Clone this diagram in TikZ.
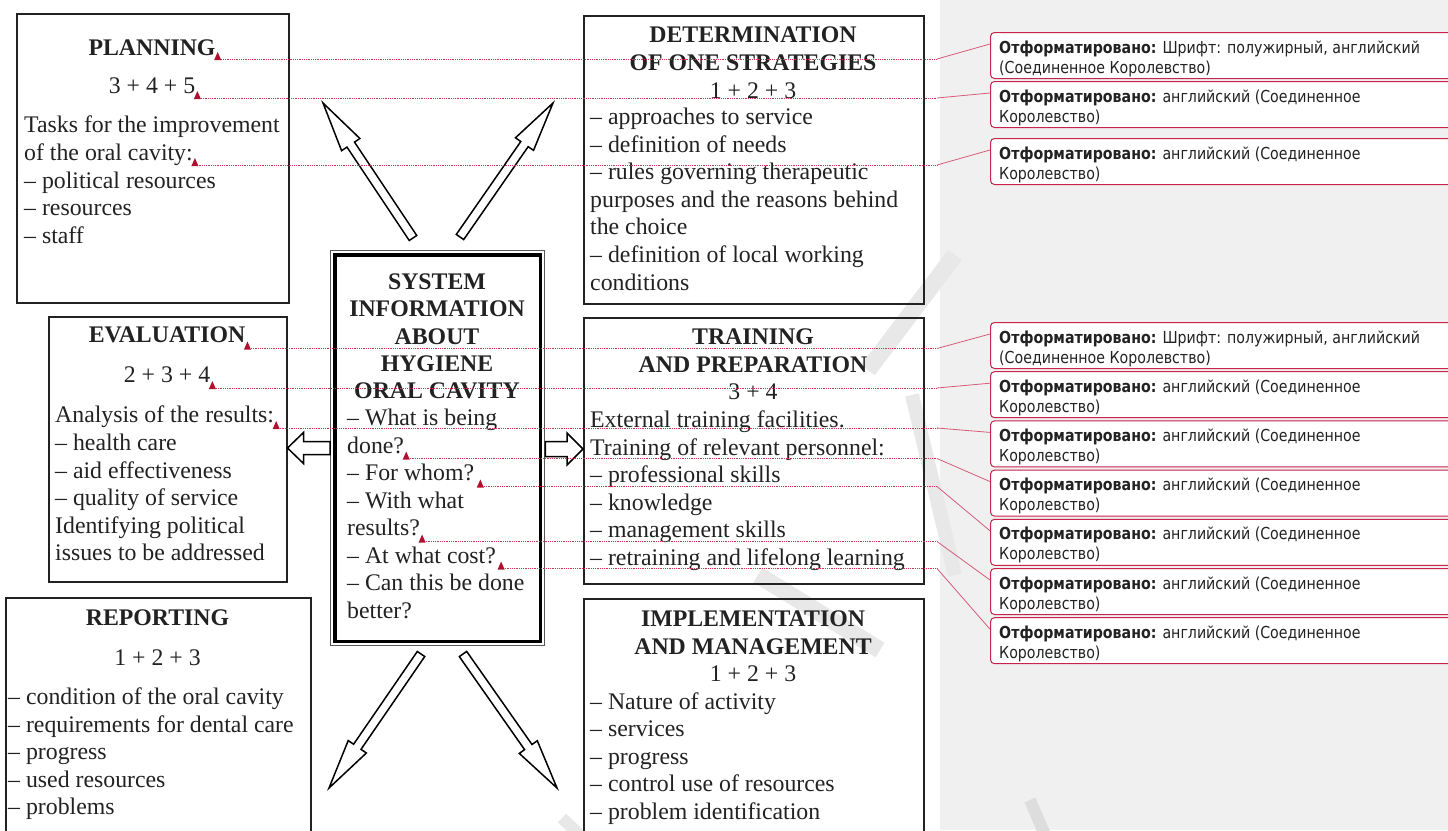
\documentclass[tikz,border=0pt]{standalone}
\usepackage{fontspec}
\setmainfont{Liberation Serif}
\newfontfamily\notefont[FakeStretch=0.86]{DejaVu Sans}
\usetikzlibrary{calc}
\definecolor{ink}{HTML}{222222}
\definecolor{revred}{HTML}{CC3358}
\definecolor{boxred}{HTML}{C8234B}
\definecolor{mkred}{HTML}{B0102E}
\definecolor{panel}{HTML}{F0F0F0}
\definecolor{wmark}{HTML}{E8E8E8}
\newcommand\mainsz{\fontsize{23.8}{27.6}\selectfont}
\newcommand\notesz{\fontsize{16.5}{20}\selectfont}
\newcommand\BlockArrow[6]{%
  \coordinate (#6) at ($(#2)!#5!(#1)$);
  \draw[barrow] ($(#1)!#3!90:(#2)$) -- ($(#6)!#3!90:(#2)$) -- ($(#6)!#4!90:(#2)$) -- (#2) -- ($(#6)!#4!-90:(#2)$) -- ($(#6)!#3!-90:(#2)$) -- ($(#1)!#3!-90:(#2)$) -- cycle;}
\newcommand\MkNote[4]{%
  \node[cbox] (#1) at (990,#2) {};
  \node[ctxt] (#1a) at (999,#2+21) {\textbf{Отформатировано:} #3};
  \node[ctxt] (#1b) at (999,#2+41) {#4};}
\newcommand\MkMark[1]{\fill[mkred] (#1) ++(-3.5,1) -- ++(7,0) -- ++(-3.5,-8) -- cycle;}
\newcommand\MkLink[2]{\draw[revdot] (#1) -- (#1 -| bx); \draw[revsol] (#1 -| bx) -- ([yshift=-12pt]#2.north west);}
\tikzset{
  frame/.style={draw=ink, line width=1.5pt, anchor=north west, inner sep=0pt},
  txt/.style={anchor=base west, inner sep=0pt, font=\mainsz, text=ink},
  ctr/.style={anchor=base, inner sep=0pt, font=\mainsz, text=ink},
  hdr/.style={anchor=base, inner sep=0pt, font=\mainsz\bfseries, text=ink},
  barrow/.style={draw=black, fill=white, line width=1.5pt},
  cbox/.style={draw=boxred, fill=white, line width=1pt, rounded corners=4pt, anchor=north west, minimum width=480pt, minimum height=46pt, inner sep=0pt},
  ctxt/.style={anchor=base west, inner sep=0pt, font=\notefont\notesz, text=ink},
  revdot/.style={draw=revred, line width=0.8pt, dash pattern=on 1pt off 0.8pt},
  revsol/.style={draw=revred!80, line width=0.8pt},
  wm/.style={draw=wmark, line width=17pt, line cap=butt}
}
\begin{document}
\begin{tikzpicture}[x=1pt,y=-1pt]
\useasboundingbox (0,0) rectangle (1448,830);
\clip (0,0) rectangle (1448,830);
\fill[white] (0,0) rectangle (940,830);
\fill[panel] (940,0) rectangle (1448,830);
% watermark traces
\draw[wm] (955,255) -- (868,370);
\draw[wm, line width=14pt] (912,395) -- (955,575);
\draw[wm] (758,575) -- (880,650);
\draw[wm, draw=panel!92!black, line width=12pt] (1030,800) -- (1045,835);
\draw[wm, line width=12pt] (562,818) -- (585,840);
\coordinate (bx) at (937,0);

% boxes
\node[frame, minimum width=272pt, minimum height=289pt] (plan) at (16,13) {};
\node[frame, minimum width=340pt, minimum height=288pt] (det) at (583,15) {};
\node[frame, minimum width=238pt, minimum height=265pt] (eval) at (48,316) {};
\node[frame, minimum width=340pt, minimum height=266pt] (train) at (583,317) {};
\node[frame, minimum width=305pt, minimum height=300pt] (rep) at (5,597) {};
\node[frame, minimum width=340pt, minimum height=300pt] (impl) at (583,598) {};
\node[draw=ink!75, line width=1.3pt, anchor=north west, inner sep=0pt, minimum width=214pt, minimum height=395pt] (sys) at (330,250) {};
\draw[line width=3.5pt, black] ([shift={(4.75pt,-4.75pt)}]sys.north west) rectangle ([shift={(-4.75pt,4.75pt)}]sys.south east);

% PLANNING
\node[hdr] (plH) at (152,55) {PLANNING};
\node[ctr] (plN) at (152,93.5) {3 + 4 + 5};
\node[txt] (pl1) at (24,132.5) {Tasks for the improvement};
\node[txt] (pl2) at (24,160.5) {of the oral cavity:};
\node[txt] (pl3) at (24,188) {– political resources};
\node[txt] (pl4) at (24,215.5) {– resources};
\node[txt] (pl5) at (24,243) {– staff};

% DETERMINATION
\node[hdr] (deH1) at (753,42.5) {DETERMINATION};
\node[hdr] (deH2) at (753,70.5) {OF ONE STRATEGIES};
\node[ctr] (deN) at (753,98) {1 + 2 + 3};
\node[txt] (de1) at (590,124.5) {– approaches to service};
\node[txt] (de2) at (590,152.1) {– definition of needs};
\node[txt] (de3) at (590,179.7) {– rules governing therapeutic};
\node[txt] (de4) at (590,207.3) {purposes and the reasons behind};
\node[txt] (de5) at (590,234.9) {the choice};
\node[txt] (de6) at (590,262.5) {– definition of local working};
\node[txt] (de7) at (590,290.1) {conditions};

% EVALUATION
\node[hdr] (evH) at (167,342.5) {EVALUATION};
\node[ctr] (evN) at (167,382.5) {2 + 3 + 4};
\node[txt] (ev1) at (55,422.5) {Analysis of the results:};
\node[txt] (ev2) at (55,450.5) {– health care};
\node[txt] (ev3) at (55,478) {– aid effectiveness};
\node[txt] (ev4) at (55,505.5) {– quality of service};
\node[txt] (ev5) at (55,533) {Identifying political};
\node[txt] (ev6) at (55,560.5) {issues to be addressed};

% SYSTEM
\node[hdr] (syH1) at (437,289.5) {SYSTEM};
\node[hdr] (syH2) at (437,316.8) {INFORMATION};
\node[hdr] (syH3) at (437,344.1) {ABOUT};
\node[hdr] (syH4) at (437,371.4) {HYGIENE};
\node[hdr] (syH5) at (437,398.7) {ORAL CAVITY};
\node[txt] (sy1) at (347,425.5) {– What is being};
\node[txt] (sy2) at (347,453) {done?};
\node[txt] (sy3) at (347,480.5) {– For whom?};
\node[txt] (sy4) at (347,508) {– With what};
\node[txt] (sy5) at (347,535.5) {results?};
\node[txt] (sy6) at (347,563) {– At what cost?};
\node[txt] (sy7) at (347,590.5) {– Can this be done};
\node[txt] (sy8) at (347,618) {better?};

% TRAINING
\node[hdr] (trH1) at (753,344.5) {TRAINING};
\node[hdr] (trH2) at (753,372.5) {AND PREPARATION};
\node[ctr] (trN) at (753,399.5) {3 + 4};
\node[txt] (tr1) at (590,427.5) {External training facilities.};
\node[txt] (tr2) at (590,455) {Training of relevant personnel:};
\node[txt] (tr3) at (590,482.5) {– professional skills};
\node[txt] (tr4) at (590,510) {– knowledge};
\node[txt] (tr5) at (590,537.5) {– management skills};
\node[txt] (tr6) at (590,565) {– retraining and lifelong learning};

% REPORTING
\node[hdr] (reH) at (157.5,625.5) {REPORTING};
\node[ctr] (reN) at (157.5,665.5) {1 + 2 + 3};
\node[txt] (re1) at (8,704.5) {– condition of the oral cavity};
\node[txt] (re2) at (8,732) {– requirements for dental care};
\node[txt] (re3) at (8,759.5) {– progress};
\node[txt] (re4) at (8,787) {– used resources};
\node[txt] (re5) at (8,814.5) {– problems};

% IMPLEMENTATION
\node[hdr] (imH1) at (753,626.5) {IMPLEMENTATION};
\node[hdr] (imH2) at (753,654) {AND MANAGEMENT};
\node[ctr] (imN) at (753,681.5) {1 + 2 + 3};
\node[txt] (im1) at (590,709) {– Nature of activity};
\node[txt] (im2) at (590,736.5) {– services};
\node[txt] (im3) at (590,764) {– progress};
\node[txt] (im4) at (590,791.5) {– control use of resources};
\node[txt] (im5) at (590,819) {– problem identification};

% block arrows
\coordinate (ulT) at (413,238); \coordinate (ulP) at (323,103);
\coordinate (urT) at (460,237); \coordinate (urP) at (553,103);
\coordinate (dlT) at (421,654); \coordinate (dlP) at (329,788);
\coordinate (drT) at (463,654); \coordinate (drP) at (557,788);
\coordinate (lT) at (sys.west |- 0,448); \coordinate (lP) at (eval.east |- 0,448);
\coordinate (rT) at (sys.east |- 0,449); \coordinate (rP) at (train.west |- 0,449);
\BlockArrow{ulT}{ulP}{4.5pt}{11pt}{50pt}{ulH}
\BlockArrow{urT}{urP}{4.5pt}{11pt}{50pt}{urH}
\BlockArrow{dlT}{dlP}{4.5pt}{11pt}{50pt}{dlH}
\BlockArrow{drT}{drP}{4.5pt}{11pt}{50pt}{drH}
\BlockArrow{lT}{lP}{6.5pt}{15.5pt}{16pt}{lH}
\BlockArrow{rT}{rP}{7.5pt}{16pt}{16pt}{rH}

% comment balloons
\MkNote{c1}{32}{Шрифт: полужирный, английский}{(Соединенное Королевство)}
\MkNote{c2}{81}{английский (Соединенное}{Королевство)}
\MkNote{c3}{138}{английский (Соединенное}{Королевство)}
\MkNote{c4}{322}{Шрифт: полужирный, английский}{(Соединенное Королевство)}
\MkNote{c5}{371.2}{английский (Соединенное}{Королевство)}
\MkNote{c6}{420.4}{английский (Соединенное}{Королевство)}
\MkNote{c7}{469.6}{английский (Соединенное}{Королевство)}
\MkNote{c8}{518.8}{английский (Соединенное}{Королевство)}
\MkNote{c9}{568}{английский (Соединенное}{Королевство)}
\MkNote{c10}{617.2}{английский (Соединенное}{Королевство)}

% revision anchors
\coordinate (m1) at ([xshift=2pt,yshift=-4pt]plH.base east);
\coordinate (m2) at ([xshift=2pt,yshift=-4.5pt]plN.base east);
\coordinate (m3) at ([xshift=2pt,yshift=-4.5pt]pl2.base east);
\coordinate (m4) at ([xshift=2pt,yshift=-6pt]evH.base east);
\coordinate (m5) at ([xshift=2pt,yshift=-5.5pt]evN.base east);
\coordinate (m6) at ([xshift=2pt,yshift=-5.5pt]ev1.base east);
\coordinate (m7) at ([xshift=2pt,yshift=-5.5pt]sy2.base east);
\coordinate (m8) at ([xshift=6pt,yshift=-6pt]sy3.base east);
\coordinate (m9) at ([xshift=2pt,yshift=-6pt]sy5.base east);
\coordinate (m10) at ([xshift=5pt,yshift=-5.5pt]sy6.base east);
\MkLink{m1}{c1} \MkLink{m2}{c2} \MkLink{m3}{c3}
\MkLink{m4}{c4} \MkLink{m5}{c5} \MkLink{m6}{c6} \MkLink{m7}{c7}
\MkLink{m8}{c8} \MkLink{m9}{c9} \MkLink{m10}{c10}
\MkMark{m1} \MkMark{m2} \MkMark{m3} \MkMark{m4} \MkMark{m5}
\MkMark{m6} \MkMark{m7} \MkMark{m8} \MkMark{m9} \MkMark{m10}
\end{tikzpicture}
\end{document}
